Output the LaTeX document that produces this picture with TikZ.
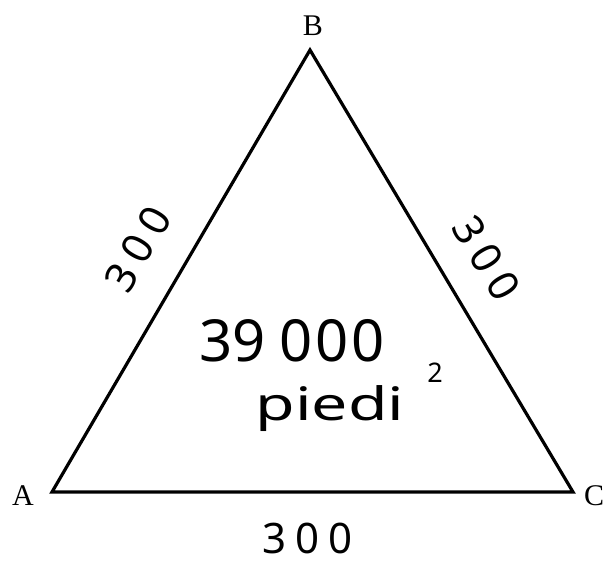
\documentclass[tikz,border=0pt]{standalone}
\usepackage{graphicx}
\usepackage{fontspec}
\setmainfont{Liberation Serif}
\newfontfamily\handfont{Noto Sans}
\newcommand{\dsp}{\hspace{9pt}}
\begin{document}
\begin{tikzpicture}[x=1pt,y=-1pt,
  side/.style={line width=3.2pt,line join=miter},
  vlabel/.style={font=\fontsize{30}{32}\selectfont,inner sep=0pt},
  hand/.style={font=\handfont\fontsize{42}{44}\selectfont,inner sep=0pt},
  handbig/.style={font=\handfont\fontsize{58}{60}\selectfont,inner sep=0pt},
  handsup/.style={font=\handfont\fontsize{27}{29}\selectfont,inner sep=0pt}]
\useasboundingbox (0,0) rectangle (605,562);
\coordinate (A) at (52,492);
\coordinate (B) at (310,50);
\coordinate (C) at (573,492);
\draw[side] (A) -- (B) -- (C) -- cycle;
\node[vlabel] (la) at (23,496) {A};
\node[vlabel] (lb) at (313,26) {B};
\node[vlabel] (lc) at (594,496) {C};
\node[hand,rotate=60] (sab) at (138,249) {3\dsp0\dsp0};
\node[hand,rotate=-59] (sbc) at (487,258) {3\dsp0\dsp0};
\node[hand] (sac) at (308,538) {3\dsp0\dsp0};
\node[handbig] (area) at (292,341) {39\hspace{14pt}0\hspace{3pt}0\hspace{3pt}0};
\node[hand,font=\handfont\fontsize{46}{48}\selectfont] (unit) at (330,409) {\scalebox{1.4}[1]{piedi}};
\node[handsup] (sup) at (435,373) {2};
\end{tikzpicture}
\end{document}
